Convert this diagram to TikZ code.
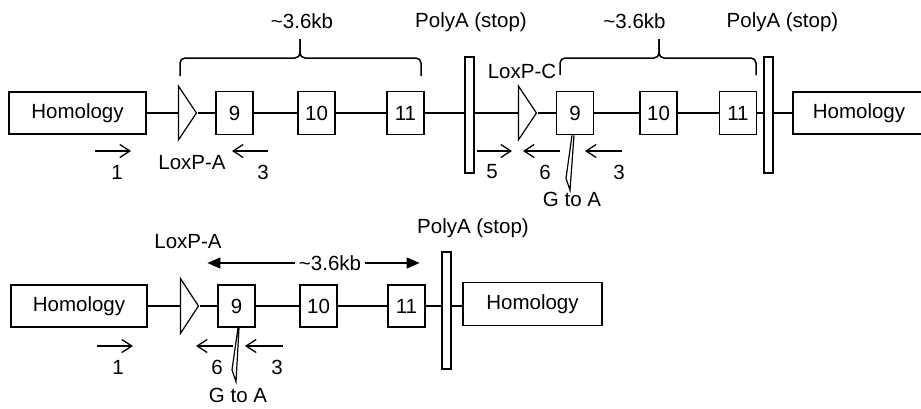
\documentclass[tikz,border=0pt]{standalone}
\usepackage{fontspec}
\setmainfont{Liberation Sans}
\usetikzlibrary{shapes.geometric,arrows.meta}

\tikzset{
  hom/.style={draw, line width=1.6pt, minimum width=137pt, minimum height=42pt, inner sep=0pt},
  exon/.style={draw, line width=1.6pt, minimum width=37pt, minimum height=43pt, inner sep=0pt},
  polya/.style={draw, fill=white, line width=1.6pt, minimum width=9pt, minimum height=116pt, inner sep=0pt},
  loxp/.style={draw, line width=1.2pt, isosceles triangle, isosceles triangle stretches, shape border rotate=0, minimum width=54pt, minimum height=18pt, inner sep=0pt, anchor=apex},
  dna/.style={line width=1.6pt},
  primer/.style={line width=1.3pt, -{Straight Barb[length=10pt,width=13pt,line width=1.3pt]}},
  kbarrow/.style={line width=1.3pt, -{Triangle[length=13pt,width=11pt]}},
  kbbrace/.style={line width=1.5pt, rounded corners=5pt},
  mut/.style={line width=1.2pt, line join=miter},
}

\begin{document}
\begin{tikzpicture}[x=1pt,y=1pt,font=\fontsize{20.5}{24}\selectfont]
\useasboundingbox (0,0) rectangle (921,-408);

%Top row
\node[hom] (homA) at (77.5,-113) {Homology};
\node[loxp] (loxA) at (198,-113) {};
\node[exon] (exA9) at (234.5,-113) {9};
\node[exon] (exA10) at (316.5,-113) {10};
\node[exon] (exA11) at (405.5,-113) {11};
\node[polya] (paA) at (469.5,-115) {};
\node[loxp] (loxC) at (538,-113) {};
\node[exon] (exC9) at (575,-113) {9};
\node[exon] (exC10) at (658.5,-113) {10};
\node[exon] (exC11) at (738,-113) {11};
\node[polya] (paC) at (768.5,-115) {};
\node[hom, minimum width=132pt] (homC) at (859,-113) {Homology};

\draw[dna] (homA.east) -- (loxA.west);
\draw[dna] (loxA.apex) -- (exA9.west);
\draw[dna] (exA9.east) -- (exA10.west);
\draw[dna] (exA10.east) -- (exA11.west);
\draw[dna] (exA11.east) -- (exA11.east -| paA.west);
\draw[dna] (exA11.east -| paA.east) -- (loxC.west);
\draw[dna] (loxC.apex) -- (exC9.west);
\draw[dna] (exC9.east) -- (exC10.west);
\draw[dna] (exC10.east) -- (exC11.west);
\draw[dna] (exC11.east) -- (exC11.east -| paC.west);
\draw[dna] (exC11.east -| paC.east) -- (homC.west);

\node (kbA) at (302,-21) {\textasciitilde3.6kb};
\node (stopA) at (471,-22) {PolyA (stop)};
\node (kbC) at (634.5,-21) {\textasciitilde3.6kb};
\node (stopC) at (782.5,-22) {PolyA (stop)};
\node (loxAlab) at (192,-163) {LoxP-A};
\node (loxClab) at (522,-71) {LoxP-C};

\draw[kbbrace] (180,-76) |- (300,-58) -- (300,-39);
\draw[kbbrace] (300,-39) -- (300,-58) -| (421,-76);
\draw[kbbrace] (560,-75) |- (659,-58) -- (659,-39);
\draw[kbbrace] (659,-39) -- (659,-58) -| (756,-75);

\node (pA1) at (117,-172) {1};
\node (pA3) at (263,-172) {3};
\node (pC5) at (492,-172) {5};
\node (pC6) at (545,-172) {6};
\node (pC3) at (619,-172) {3};
\draw[primer] ([shift={(-22,21)}]pA1.center) -- ++(36,0);
\draw[primer] ([shift={(5,21)}]pA3.center) -- ++(-36,0);
\draw[primer] ([shift={(-15,21)}]pC5.center) -- ++(35,0);
\draw[primer] ([shift={(15,21)}]pC6.center) -- ++(-37,0);
\draw[primer] ([shift={(3,21)}]pC3.center) -- ++(-37,0);

\draw[mut] ([xshift=-3pt]exC9.south) -- ++(-6,-43) -- ++(4,-12) -- ++(4,55);
\node (gaC) at (572,-199) {G to A};

%Bottom row
\node[hom, minimum width=136pt] (homB) at (79,-306) {Homology};
\node[loxp, minimum width=55pt] (loxB) at (200,-306) {};
\node[exon, minimum height=42pt] (exB9) at (236.5,-306) {9};
\node[exon, minimum height=42pt] (exB10) at (318.5,-306) {10};
\node[exon, minimum height=42pt] (exB11) at (406.5,-306) {11};
\node[polya, minimum height=117pt] (paB) at (446.5,-310.5) {};
\node[hom, minimum width=139pt, minimum height=43pt] (homD) at (532.5,-304) {Homology};

\draw[dna] (homB.east) -- (loxB.west);
\draw[dna] (loxB.apex) -- (exB9.west);
\draw[dna] (exB9.east) -- (exB10.west);
\draw[dna] (exB10.east) -- (exB11.west);
\draw[dna] (exB11.east) -- (exB11.east -| paB.west);
\draw[dna] (exB11.east -| paB.east) -- (exB11.east -| homD.west);

\node (stopB) at (473,-228) {PolyA (stop)};
\node (loxBlab) at (188,-242) {LoxP-A};
\node (kbB) at (330,-263) {\textasciitilde3.6kb};
\draw[kbarrow] (kbB.west) -- ++(-88,0);
\draw[kbarrow] (kbB.east) -- ++(55,0);

\node (pB1) at (118,-367) {1};
\node (pB6) at (217,-367) {6};
\node (pB3) at (277,-367) {3};
\draw[primer] ([shift={(-21,21)}]pB1.center) -- ++(36,0);
\draw[primer] ([shift={(16,21)}]pB6.center) -- ++(-37,0);
\draw[primer] ([shift={(6,21)}]pB3.center) -- ++(-38,0);

\draw[mut] ([xshift=1.5pt]exB9.south) -- ++(-6,-42) -- ++(4,-12) -- ++(3,54);
\node (gaB) at (238,-395) {G to A};
\end{tikzpicture}
\end{document}
